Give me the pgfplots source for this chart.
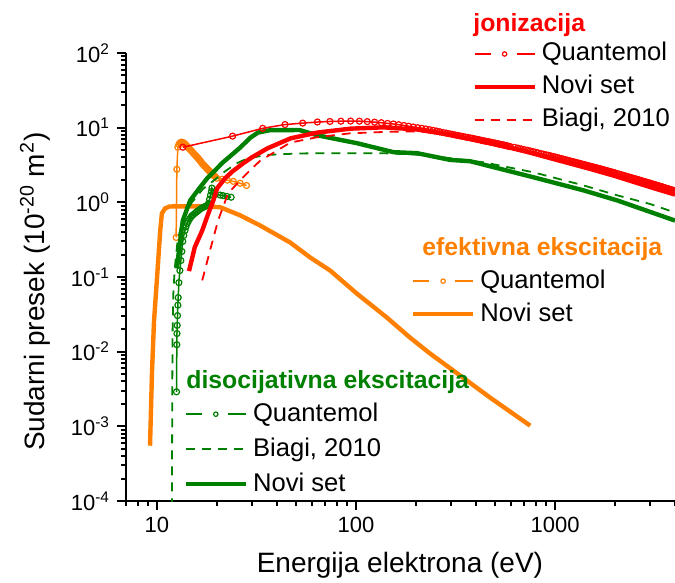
\documentclass[border=0pt]{standalone}
\usepackage{fontspec}
\setmainfont{Liberation Sans}
\usepackage{pgfplots}
\pgfplotsset{compat=1.18}
\definecolor{cred}{RGB}{255,0,0}
\definecolor{corange}{RGB}{255,128,0}
\definecolor{cgreen}{RGB}{0,128,0}

\pgfplotsset{
  lineleg/.style={legend image code/.code={\draw[##1] (0bp,0bp) -- (30bp,0bp); \path (31.5bp,0bp);}},
  qlegend/.style={legend image code/.code={
    \draw[##1,mark=none] (0bp,0bp) -- (8bp,0bp);
    \draw[##1,mark=none] (21bp,0bp) -- (30bp,0bp);
    \draw[##1,only marks,mark size=1.1bp] plot coordinates {(15bp,0bp)};
    \path (31.5bp,0bp);}},
}
\tikzset{
  thinq/.style={line width=0.75bp, mark=o, mark size=1.5bp, mark options={solid, fill=white, line width=0.6bp}},
  thickl/.style={line width=2.2bp},
  dashl/.style={line width=0.9bp, dash pattern=on 4.5bp off 3.5bp},
}

\begin{document}
\begin{tikzpicture}
% ---------- efektivna ekscitacija (with axes) ----------
\begin{axis}[
  xmode=log, ymode=log, xmin=7, xmax=4000, ymin=1e-4, ymax=100,
  scale only axis, width=274.5bp, height=224bp,
  legend style={draw=none, fill=none, inner sep=0pt, outer sep=0pt,
    anchor=north west, row sep=2.5bp, font=\fontsize{12.8bp}{14bp}\selectfont,
    nodes={inner sep=1bp, text height=9.5bp, text depth=2.5bp},
    at={(axis description cs:0.519,0.522)}},
  legend cell align=left,
  axis x line*=bottom, axis y line*=left,
  axis line style={line width=1bp},
  tick style={black, line width=1bp},
  tick align=outside, major tick length=4.5bp, minor tick length=2.5bp,
  tick label style={font=\fontsize{11bp}{13bp}\selectfont},
  label style={font=\fontsize{14bp}{16bp}\selectfont},
  xtick={10,100,1000}, xticklabels={10,100,1000},
  minor xtick={7,8,9,20,30,40,50,60,70,80,90,200,300,400,500,600,700,800,900,2000,3000,4000},
  ytick={1e-4,1e-3,1e-2,1e-1,1,10,100},
  yticklabels={10\textsuperscript{-4},10\textsuperscript{-3},10\textsuperscript{-2},10\textsuperscript{-1},10\textsuperscript{0},10\textsuperscript{1},10\textsuperscript{2}},
  minor ytick={2e-4,3e-4,4e-4,5e-4,6e-4,7e-4,8e-4,9e-4,
    2e-3,3e-3,4e-3,5e-3,6e-3,7e-3,8e-3,9e-3,
    0.02,0.03,0.04,0.05,0.06,0.07,0.08,0.09,
    0.2,0.3,0.4,0.5,0.6,0.7,0.8,0.9,
    2,3,4,5,6,7,8,9,20,30,40,50,60,70,80,90},
  xlabel={Energija elektrona (eV)},
  ylabel={Sudarni presek (10\textsuperscript{-20} m\textsuperscript{2})},
  xlabel style={at={(axis description cs:0.499,-0.143)}, anchor=center},
  ylabel style={at={(axis description cs:-0.166,0.467)}, anchor=center},
]
\addplot[corange, thinq, qlegend] coordinates {
(12.5,0.339) (12.6,2.77) (12.75,5.47) (12.9,6.0) (13.1,6.3) (13.3,6.4)
(13.5,6.35) (13.7,6.2) (13.9,6.0) (14.1,5.75) (14.3,5.5) (14.5,5.3)
(14.7,5.1) (14.9,4.9) (15.1,4.7) (15.3,4.5) (15.5,4.35) (15.7,4.2)
(15.9,4.05) (16.1,3.9) (16.3,3.75) (16.5,3.6) (16.7,3.45) (16.9,3.3)
(17.1,3.2) (17.3,3.1) (17.5,3.0) (17.7,2.9) (17.9,2.8) (18.1,2.72)
(18.3,2.64) (18.5,2.56) (18.7,2.48) (18.9,2.41) (19.1,2.35) (19.3,2.28)
(19.6,2.22) (20.0,2.1) (21.3,2.04) (22.6,1.98) (24.2,1.91) (26.2,1.8)
(28.2,1.68)
};
\addlegendentry{Quantemol}
\addplot[corange, thickl, lineleg] coordinates {
(9.24,0.00055) (9.46,0.0056) (9.68,0.026) (10.0,0.09) (10.4,0.42)
(10.6,0.71) (11.0,0.83) (11.6,0.88) (14,0.885) (18,0.88) (20.8,0.86)
(26.2,0.67) (33,0.49) (46.7,0.29) (58.8,0.183) (74.2,0.122) (101,0.060)
(143,0.0286) (187,0.0154) (236,0.0094) (345,0.00448) (472,0.00242)
(750,0.00102)
};
\addlegendentry{Novi set}
\end{axis}

% ---------- disocijativna ekscitacija ----------
\begin{axis}[
  xmode=log, ymode=log, xmin=7, xmax=4000, ymin=1e-4, ymax=100,
  scale only axis, width=274.5bp, height=224bp, hide axis,
  legend style={draw=none, fill=none, inner sep=0pt, outer sep=0pt,
    anchor=north west, row sep=3.5bp, font=\fontsize{12.8bp}{14bp}\selectfont,
    nodes={inner sep=1bp, text height=9.5bp, text depth=2.5bp},
    at={(axis description cs:0.105,0.225)}},
  legend cell align=left,
]
\addplot[cgreen, thinq, qlegend] coordinates {
(12.55,0.0029) (12.6,0.0124) (12.62,0.0175) (12.65,0.0225) (12.7,0.0304)
(12.75,0.042) (12.8,0.053) (12.9,0.084) (13.05,0.122) (13.2,0.166)
(13.35,0.22) (13.5,0.30) (13.65,0.36) (13.85,0.42) (14.0,0.47)
(14.2,0.52) (14.4,0.56) (14.6,0.60) (14.8,0.63) (15.0,0.66) (15.2,0.68)
(15.5,0.71) (15.8,0.74) (16.1,0.77) (16.4,0.80) (16.7,0.83) (17.0,0.85)
(17.3,0.87) (17.6,0.89) (17.9,0.91) (18.2,0.97) (18.4,1.1) (18.6,1.25)
(18.8,1.4) (18.9,1.55) (19.6,1.27) (20.8,1.25) (21.5,1.23) (22.5,1.2)
(23.6,1.17)
};
\addlegendentry{Quantemol}
\addplot[cgreen, dashl, lineleg] coordinates {
(11.9,0.00005) (11.95,0.003) (12.0,0.02) (12.1,0.06) (12.3,0.13)
(12.7,0.3) (13.5,0.6) (15,1.0) (17,1.5) (19.5,2.0) (22,2.6) (25,3.3)
(28,3.8) (35,4.3) (50,4.5) (64,4.55) (137,4.55) (203,4.35) (297,3.9)
(436,3.44) (776,2.53) (1384,1.69) (2053,1.24) (3000,0.95) (4000,0.73)
};
\addlegendentry{Biagi, 2010}
\addplot[cgreen, thickl, lineleg] coordinates {
(12.6,0.13) (13.1,0.31) (13.5,0.57) (14.7,1.06) (16.5,1.59) (17.9,2.1)
(21.5,3.44) (26.2,5.4) (29.4,7.3) (32.2,8.6) (37,9.25) (52,9.3)
(64,7.9) (101,6.2) (154,4.7) (203,4.55) (297,3.7) (375,3.55)
(776,2.17) (1384,1.45) (2053,1.06) (4000,0.57)
};
\addlegendentry{Novi set}
\end{axis}

% ---------- jonizacija ----------
\begin{axis}[
  xmode=log, ymode=log, xmin=7, xmax=4000, ymin=1e-4, ymax=100,
  scale only axis, width=274.5bp, height=224bp, hide axis,
  legend style={draw=none, fill=none, inner sep=0pt, outer sep=0pt,
    anchor=north west, row sep=2.5bp, font=\fontsize{12.8bp}{14bp}\selectfont,
    nodes={inner sep=1bp, text height=9.5bp, text depth=2.5bp},
    at={(axis description cs:0.631,1.029)}},
  legend cell align=left,
]
\addplot[cred, thinq, qlegend] coordinates {
(13.5,5.47) (24,7.7) (34,9.8) (44,11.0) (54,11.5) (64,11.9) (74,12.1)
(84,12.2) (94,12.25) (104,12.2) (114,12.05) (124,11.85) (134,11.65)
(144,11.4) (154,11.2) (164,10.95) (174,10.7) (184,10.45) (194,10.2)
(204,10.0) (214,9.8) (224,9.6) (234,9.4) (244,9.2) (254,9.0) (264,8.8)
(274,8.6) (284,8.45) (294,8.3) (304,8.15) (314,8.0) (324,7.87)
(334,7.75) (344,7.62) (354,7.5) (364,7.4) (374,7.3) (384,7.2) (394,7.1)
(404,7.0) (414,6.9) (424,6.8) (434,6.7) (444,6.62) (454,6.55) (464,6.47)
(474,6.4) (484,6.32) (494,6.25) (504,6.17) (514,6.1) (524,6.02)
(534,5.95) (544,5.9) (554,5.85) (564,5.77) (574,5.7) (584,5.65)
(594,5.6) (625,5.45) (650,5.32) (675,5.2) (700,5.08) (725,4.98)
(750,4.88) (775,4.78) (800,4.68) (825,4.58) (850,4.49) (875,4.41)
(900,4.33) (925,4.26) (950,4.19) (975,4.12) (1000,4.05) (1025,3.98)
(1050,3.91) (1075,3.85) (1100,3.79) (1125,3.73) (1150,3.67) (1175,3.62)
(1200,3.56) (1225,3.51) (1250,3.46) (1275,3.42) (1300,3.37) (1325,3.33)
(1350,3.28) (1375,3.24) (1400,3.2) (1425,3.16) (1450,3.12) (1475,3.08)
(1500,3.05) (1525,3.01) (1550,2.98) (1575,2.94) (1600,2.91) (1625,2.88)
(1650,2.85) (1675,2.82) (1700,2.79) (1725,2.76) (1750,2.73) (1775,2.7)
(1800,2.67) (1825,2.64) (1850,2.62) (1875,2.59) (1900,2.57) (1925,2.54)
(1950,2.52) (1975,2.5) (2000,2.47) (2050,2.43) (2100,2.38) (2150,2.34)
(2200,2.3) (2250,2.26) (2300,2.22) (2350,2.18) (2400,2.15) (2450,2.11)
(2500,2.08) (2550,2.05) (2600,2.02) (2650,1.99) (2700,1.96) (2750,1.93)
(2800,1.9) (2850,1.88) (2900,1.85) (2950,1.83) (3000,1.8) (3050,1.78)
(3100,1.75) (3150,1.73) (3200,1.71) (3250,1.69) (3300,1.67) (3350,1.65)
(3400,1.63) (3450,1.61) (3500,1.59) (3550,1.57) (3600,1.55) (3650,1.53)
(3700,1.52) (3750,1.5) (3800,1.48) (3850,1.47) (3900,1.45) (3950,1.44)
(4000,1.42)
};
\addlegendentry{Quantemol}
\addplot[cred, thickl, lineleg] coordinates {
(14.5,0.12) (15.5,0.25) (16.9,0.42) (18.1,0.70) (19.2,1.05) (20.1,1.55)
(22,2.1) (24,2.6) (27,3.3) (30,4.0) (36,5.3) (47,7.2) (64,8.6) (94,9.7)
(137,10.1) (200,9.5) (300,8.0) (400,6.85) (500,6.0) (700,4.85)
(1000,3.75) (1500,2.8) (2000,2.25) (3000,1.6) (4000,1.27)
};
\addlegendentry{Novi set}
\addplot[cred, dashl, lineleg] coordinates {
(16.9,0.09) (18.5,0.227) (20.3,0.573) (22.8,1.32) (26.2,1.97) (29.4,2.7)
(33,3.6) (46.7,6.3) (63.8,7.45) (93.5,8.4) (137,8.75) (180,8.9)
(220,8.8) (300,7.95) (400,6.85) (500,6.0) (700,4.85) (1000,3.75)
(1500,2.8) (2000,2.25) (3000,1.6) (4000,1.27)
};
\addlegendentry{Biagi, 2010}
\end{axis}

% group titles
\node[anchor=base west, font=\fontsize{12.4bp}{14bp}\selectfont\bfseries, text=cred, inner sep=0pt] at (173.5bp,234.5bp) {jonizacija};
\node[anchor=base west, font=\fontsize{12.4bp}{14bp}\selectfont\bfseries, text=corange, inner sep=0pt] at (148bp,122.5bp) {efektivna ekscitacija};
\node[anchor=base west, font=\fontsize{12.4bp}{14bp}\selectfont\bfseries, text=cgreen, inner sep=0pt] at (30bp,56bp) {disocijativna ekscitacija};

\pgfresetboundingbox
\path[use as bounding box] (-63bp,-41bp) rectangle (274.5bp,250.5bp);
\end{tikzpicture}
\end{document}
